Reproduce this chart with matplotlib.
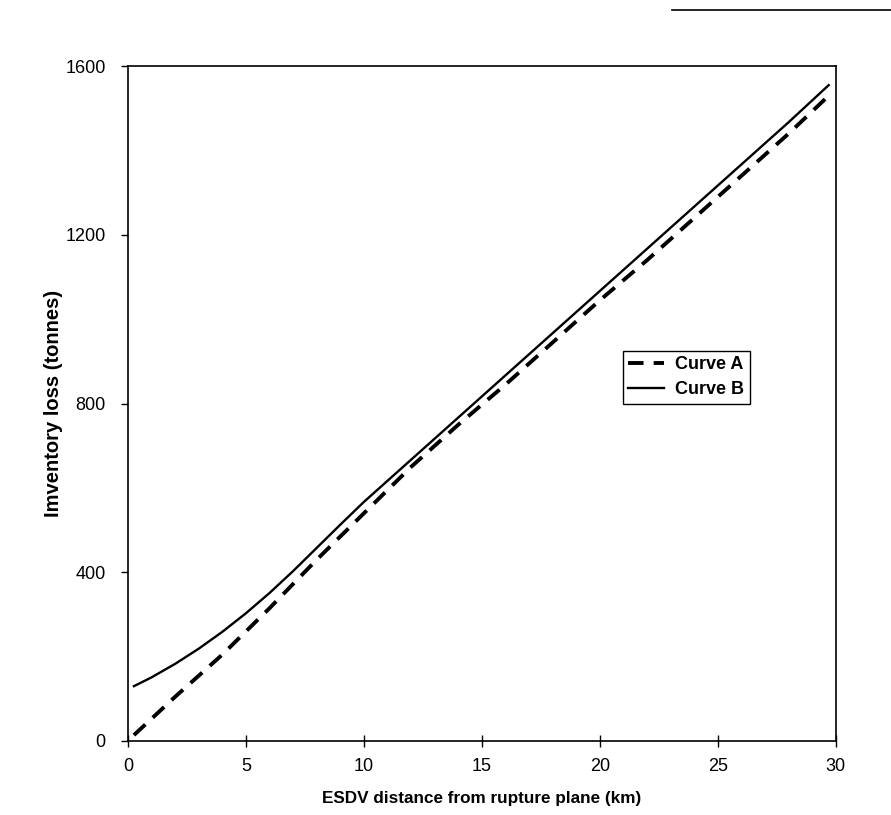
import matplotlib.pyplot as plt
from matplotlib.lines import Line2D

# distance (km) and inventory loss (tonnes)
dist_a = [0.25, 2, 4, 6, 8, 10, 12, 14, 16, 18, 20, 22, 24, 26, 28, 29.7]
loss_a = [14, 105, 205, 315, 430, 540, 650, 750, 845, 945, 1045, 1140, 1240, 1340, 1440, 1530]

dist_b = [0.25, 1, 2, 3, 4, 5, 6, 7, 8, 9, 10, 12, 14, 16, 18, 20, 22, 24, 26, 28, 29.7]
loss_b = [130, 151, 183, 219, 259, 303, 351, 403, 458, 513, 567, 667, 767, 867, 967, 1067,
          1167, 1267, 1367, 1467, 1555]

x_ticks = [0, 5, 10, 15, 20, 25, 30]
y_ticks = [0, 400, 800, 1200, 1600]

plt.rcParams['font.family'] = ['Liberation Sans', 'DejaVu Sans']

fig = plt.figure(figsize=(8.91, 8.15), dpi=100)
ax = fig.add_axes([0.1437, 0.0908, 0.7943, 0.828])

ax.plot(dist_a, loss_a, color='black', lw=2.8, ls=(0, (4, 2.6)), label='Curve A')
ax.plot(dist_b, loss_b, color='black', lw=1.7, label='Curve B')

ax.set_xlim(0, 30)
ax.set_ylim(0, 1600)
ax.set_xticks(x_ticks)
ax.set_yticks(y_ticks)
ax.tick_params(axis='x', direction='inout', length=9, width=1, labelsize=13, pad=8)
ax.tick_params(axis='y', direction='out', length=5, width=1, labelsize=13, pad=11)
for s in ax.spines.values():
    s.set_linewidth(1.2)

ax.set_xlabel('ESDV distance from rupture plane (km)', fontsize=12.3, fontweight='bold', labelpad=11)
ax.set_ylabel('Imventory loss (tonnes)', fontsize=14.5, fontweight='bold', labelpad=1.5)

leg = ax.legend(loc='lower left', bbox_to_anchor=(0.699, 0.50), fancybox=False,
                edgecolor='black', framealpha=1, prop={'weight': 'bold', 'size': 13},
                handlelength=2.0, handletextpad=0.6, borderpad=0.3, labelspacing=0.45,
                borderaxespad=0)
leg.get_frame().set_linewidth(1.0)

# scan artefact: short rule at the top right
fig.add_artist(Line2D([0.754, 1.0], [0.988, 0.988], color='black', lw=1.2))

fig.savefig('out.png', dpi=100)
